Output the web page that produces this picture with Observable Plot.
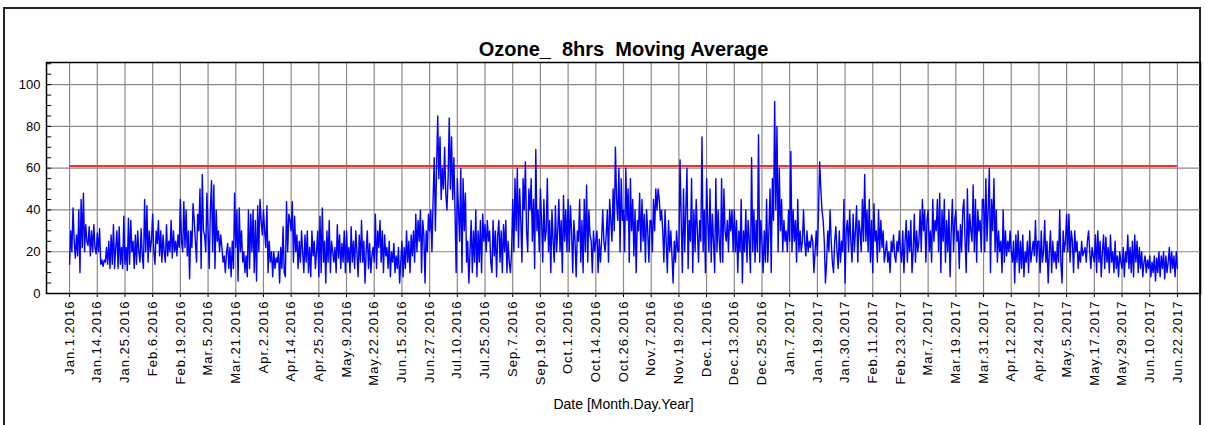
<!DOCTYPE html>
<html><head><meta charset="utf-8">
<script src="https://cdn.jsdelivr.net/npm/d3@7"></script>
<script src="https://cdn.jsdelivr.net/npm/@observablehq/plot@0.6"></script>
<style>
body{margin:0;background:#fff;}
#wrap{position:relative;width:1205px;height:425px;overflow:hidden;background:#fff;}
#border{position:absolute;left:3px;top:7px;width:1198px;height:440px;border:2px solid #222;box-sizing:border-box;}
#wrap svg{position:absolute;left:0;top:0;}
#wrap svg [aria-label="x-axis tick label"]{font-size:13px !important;letter-spacing:1px;}
#wrap svg [aria-label="y-axis tick label"]{font-size:13px !important;}
</style></head><body><div id="wrap"><div id="border"></div></div>
<script>
const title = "Ozone_\u00a0 8hrs\u00a0 Moving Average";
const xTitle = "Date [Month.Day.Year]";
const limitValue = 61;
const perTick = 24;
const tickLabels = ["Jan.1.2016","Jan.14.2016","Jan.25.2016","Feb.6.2016","Feb.19.2016","Mar.5.2016","Mar.21.2016","Apr.2.2016","Apr.14.2016","Apr.25.2016","May.9.2016","May.22.2016","Jun.15.2016","Jun.27.2016","Jul.10.2016","Jul.25.2016","Sep.7.2016","Sep.19.2016","Oct.1.2016","Oct.14.2016","Oct.26.2016","Nov.7.2016","Nov.19.2016","Dec.1.2016","Dec.13.2016","Dec.25.2016","Jan.7.2017","Jan.19.2017","Jan.30.2017","Feb.11.2017","Feb.23.2017","Mar.7.2017","Mar.19.2017","Mar.31.2017","Apr.12.2017","Apr.24.2017","May.5.2017","May.17.2017","May.29.2017","Jun.10.2017","Jun.22.2017"];
const yTicks = [0, 20, 40, 60, 80, 100];
const ozone = [
14,30,20,41,25,17,28,18,40,10,45,22,48,20,33,25,23,32,18,30,20,33,22,19,
29,20,31,14,16,13,16,15,22,14,25,12,28,14,33,12,22,30,12,32,14,22,12,37,
14,22,11,36,14,35,20,25,12,28,14,30,20,15,31,18,12,45,20,42,15,30,20,26,
38,20,14,30,24,35,18,30,15,28,20,15,33,18,25,20,35,17,30,20,25,18,28,22,
45,25,20,44,22,40,18,30,7,30,22,43,35,25,15,38,30,50,12,57,30,28,20,48,
30,12,40,54,20,52,12,40,25,30,20,28,22,15,18,10,20,24,12,22,8,25,12,48,
22,40,6,41,20,30,15,20,10,18,8,40,12,38,20,40,10,35,6,42,20,45,35,28,
40,30,22,42,10,25,15,20,8,20,12,17,15,20,5,22,12,32,10,8,44,20,38,35,
30,44,15,37,20,28,12,25,15,30,20,10,28,15,30,10,22,8,30,18,25,12,20,30,
8,37,10,41,15,25,5,30,15,35,10,25,20,15,22,10,33,17,28,12,24,15,30,10,
30,15,22,10,32,15,25,12,30,20,8,28,15,35,15,25,5,20,30,12,24,10,18,22,
15,38,12,30,22,35,15,30,10,28,18,22,12,25,8,20,15,24,10,18,12,22,5,15,
25,8,22,12,30,15,25,10,28,18,30,15,38,20,35,25,40,10,35,28,5,30,20,38,
30,40,20,45,65,30,60,85,55,75,45,60,50,70,48,40,55,84,50,75,45,65,40,10,
55,40,25,60,10,55,30,48,15,25,5,20,35,10,30,15,40,8,30,15,35,10,38,25,
33,20,35,25,30,15,10,35,18,30,8,28,35,15,30,10,33,20,35,10,25,15,10,20,
45,20,55,30,60,22,50,35,15,55,40,63,30,20,50,40,55,25,45,12,69,30,40,20,
50,35,15,45,25,30,55,20,35,10,40,25,15,42,20,30,45,20,35,10,47,25,40,20,
45,20,42,30,10,35,25,8,30,25,45,15,35,10,45,20,52,15,40,28,25,10,30,20,
25,30,10,26,15,25,40,25,20,28,40,15,45,35,25,50,30,70,45,35,60,20,55,35,
40,20,60,35,50,15,55,30,45,18,40,10,35,30,48,20,45,25,38,15,40,30,15,35,
35,20,45,30,50,40,50,45,35,40,30,15,40,25,10,35,20,30,18,5,25,15,30,20,
20,64,35,10,50,20,40,60,12,35,25,55,10,40,20,45,30,15,35,25,75,20,40,10,
55,35,20,50,15,38,25,10,55,20,40,25,15,55,15,50,30,25,35,20,40,30,40,20,
40,20,35,10,30,20,45,5,30,20,40,15,35,25,10,65,20,40,15,35,20,76,15,35,
25,10,30,15,45,15,30,50,10,55,35,92,40,80,20,60,30,45,20,35,25,30,20,40,
25,68,20,40,25,35,15,45,20,30,20,25,40,25,18,30,20,25,22,28,25,10,20,30,
18,40,63,50,40,35,25,5,15,30,20,40,25,15,10,25,32,20,12,30,15,25,20,45,
5,30,35,20,40,25,15,38,20,30,42,15,35,30,20,45,25,57,25,40,20,45,15,35,
10,43,25,30,15,40,20,35,22,30,15,20,25,15,20,10,25,20,28,18,15,25,20,30,
20,15,30,10,25,35,15,30,20,35,10,20,38,15,30,20,25,40,20,45,30,40,15,35,
40,20,30,15,45,25,35,30,45,20,48,10,40,25,45,15,35,20,40,8,30,45,20,35,
40,25,30,12,33,20,40,45,25,10,50,20,38,30,25,52,20,45,15,40,30,35,20,45,
45,20,55,25,40,60,10,45,30,55,20,40,15,30,20,25,10,40,15,30,18,25,20,30,
20,15,25,5,28,15,30,10,25,12,28,8,20,15,25,10,30,15,20,25,18,35,15,25,
25,10,30,15,20,35,15,25,5,20,30,10,25,15,20,12,25,15,40,15,5,30,20,25,
38,20,38,15,30,25,10,30,20,25,12,20,15,25,18,20,22,15,25,30,20,12,22,18,
15,28,10,30,15,25,8,20,28,12,27,15,22,10,28,15,20,10,25,12,18,8,20,15,
12,22,8,20,15,28,12,22,10,25,8,28,15,25,10,22,12,20,8,15,18,10,16,12,
18,8,15,10,18,6,17,10,20,8,18,12,20,7,18,10,15,22,10,20,12,18,8,20,
12
];

const tickIdx = tickLabels.map((_, k) => k * perTick);
const lastIdx = tickIdx[tickIdx.length - 1];
const xDomain = [-20, lastIdx + 20];
const yDomain = [0, 110.6];
const minorY = d3.range(0, 111, 5);
const series = ozone.map((v, i) => ({i, v}));

const chart = Plot.plot({
  width: 1205,
  height: 425,
  marginLeft: 46,
  marginRight: 5,
  marginTop: 62,
  marginBottom: 132,
  style: {fontFamily: "'Liberation Sans', Arial, sans-serif", fontSize: "13px", background: "transparent", color: "#000"},
  x: {domain: xDomain, axis: null},
  y: {domain: yDomain, axis: null},
  marks: [
    Plot.gridY(yTicks.slice(1), {stroke: "#8a8a8a", strokeOpacity: 1, strokeWidth: 1.2}),
    Plot.gridX(tickIdx, {stroke: "#8a8a8a", strokeOpacity: 1, strokeWidth: 1.2}),
    Plot.ruleY(minorY, {x1: xDomain[0], x2: xDomain[0] + 4.5, stroke: "#000"}),
    Plot.ruleY([{y: limitValue, x1: 0, x2: lastIdx}], {y: "y", x1: "x1", x2: "x2", stroke: "#ff2a2a", strokeWidth: 2}),
    Plot.line(series, {x: "i", y: "v", stroke: "#0000ff", strokeWidth: 1.4}),
    Plot.frame({stroke: "#000", strokeWidth: 1.5}),
    Plot.axisY(yTicks, {tickSize: 0, tickPadding: 6, label: null}),
    Plot.axisX(tickIdx, {tickFormat: d => tickLabels[Math.round(d / perTick)], tickRotate: -90, tickSize: 4, tickPadding: 3, label: null}),
    Plot.text([title], {frameAnchor: "top", dy: -13, text: d => d, fontSize: 20, fontWeight: "bold", lineAnchor: "middle"}),
    Plot.text([xTitle], {frameAnchor: "bottom", dy: 111, text: d => d, fontSize: 14, lineAnchor: "middle"})
  ]
});
document.getElementById("wrap").appendChild(chart);
</script>
</body></html>
